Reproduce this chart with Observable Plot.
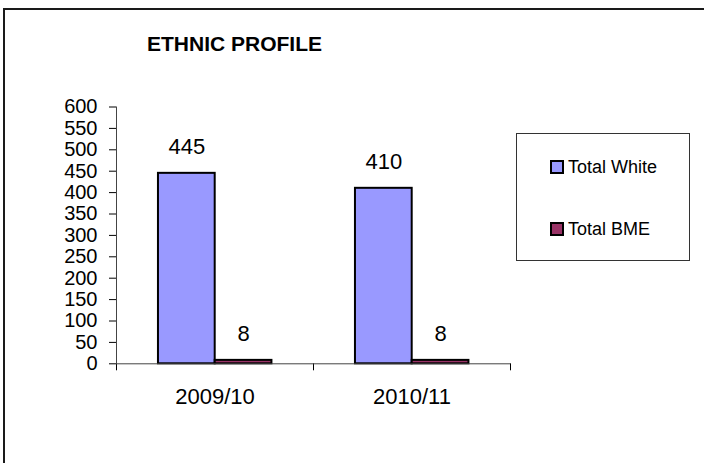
<!DOCTYPE html>
<html><head><meta charset="utf-8">
<script src="https://cdn.jsdelivr.net/npm/d3@7"></script>
<script src="https://cdn.jsdelivr.net/npm/@observablehq/plot@0.6"></script>
<style>
body{margin:0;background:#fff;font-family:"Liberation Sans",Arial,sans-serif;}
#wrap{position:relative;width:704px;height:463px;overflow:hidden;background:#fff;}
#frame{position:absolute;left:3px;top:8px;width:760px;height:520px;border:2px solid #1a1a1a;}
#title{position:absolute;left:147px;top:32px;font-weight:bold;font-size:21px;line-height:24px;color:#000;white-space:nowrap;}
#chart{position:absolute;left:0;top:64px;}
#chart svg g[aria-label^="y-axis"] text{font-size:20px !important;}
#legend{position:absolute;left:516px;top:133px;width:172px;height:126px;border:1px solid #333;background:#fff;}
.item{position:absolute;left:33px;display:flex;align-items:center;font-size:18px;line-height:20px;color:#000;white-space:nowrap;}
.sw{width:10px;height:10px;border:2px solid #000;margin-right:4px;}
</style>
</head><body>
<div id="wrap">
  <div id="frame"></div>
  <div id="title">ETHNIC PROFILE</div>
  <div id="chart"></div>
  <div id="legend"></div>
</div>
<script>
const categories = ["2009/10", "2010/11"];
const series = ["Total White", "Total BME"];
const whiteValues = [445, 410];
const bmeValues = [8, 8];
const yTicks = [0, 50, 100, 150, 200, 250, 300, 350, 400, 450, 500, 550, 600];
const colors = ["#9999FF", "#993366"];

// layout of grouped bars inside each category slot (fractions of the slot)
const groupPad = 0.213;
const barFrac = 0.288;

const seriesValues = [whiteValues, bmeValues];
const rows = categories.flatMap((cat, i) =>
  series.map((s, k) => ({cat, i, k, series: s, value: seriesValues[k][i]}))
);

const fontFamily = '"Liberation Sans", Arial, sans-serif';

const chart = Plot.plot({
  width: 704,
  height: 399,
  marginLeft: 116,
  marginRight: 194,
  marginTop: 42.5,
  marginBottom: 99.7,
  style: {fontFamily, fontSize: "20px", color: "#000", background: "transparent", overflow: "visible"},
  x: {domain: [0, categories.length], ticks: d3.range(categories.length + 1), tickFormat: () => "", tickSize: 7, label: null},
  y: {domain: [0, 600], ticks: yTicks, tickSize: 7, tickPadding: 12, label: null},
  color: {domain: series, range: colors},
  marks: [
    Plot.rect(rows, {
      x1: d => d.i + groupPad + d.k * barFrac,
      x2: d => d.i + groupPad + (d.k + 1) * barFrac,
      y1: 0,
      y2: "value",
      fill: "series",
      stroke: "#000",
      strokeWidth: 2
    }),
    Plot.ruleY([0], {stroke: "#444"}),
    Plot.ruleX([0], {stroke: "#444"}),
    Plot.text(categories, {x: (d, i) => i + 0.5, y: () => 0, text: d => d, dy: 33, fontSize: 22, fill: "#000"}),
    Plot.text(rows, {
      x: d => d.i + groupPad + (d.k + 0.5) * barFrac,
      y: "value",
      text: d => String(d.value),
      dy: -26,
      fontSize: 22,
      fill: "#000"
    })
  ]
});
document.getElementById("chart").appendChild(chart);

// legend
const legend = document.getElementById("legend");
const legendTops = [23, 85];
series.forEach((s, k) => {
  const item = document.createElement("div");
  item.className = "item";
  item.style.top = legendTops[k] + "px";
  const sw = document.createElement("span");
  sw.className = "sw";
  sw.style.background = colors[k];
  const label = document.createElement("span");
  label.textContent = s;
  item.appendChild(sw);
  item.appendChild(label);
  legend.appendChild(item);
});
</script>
</body></html>
